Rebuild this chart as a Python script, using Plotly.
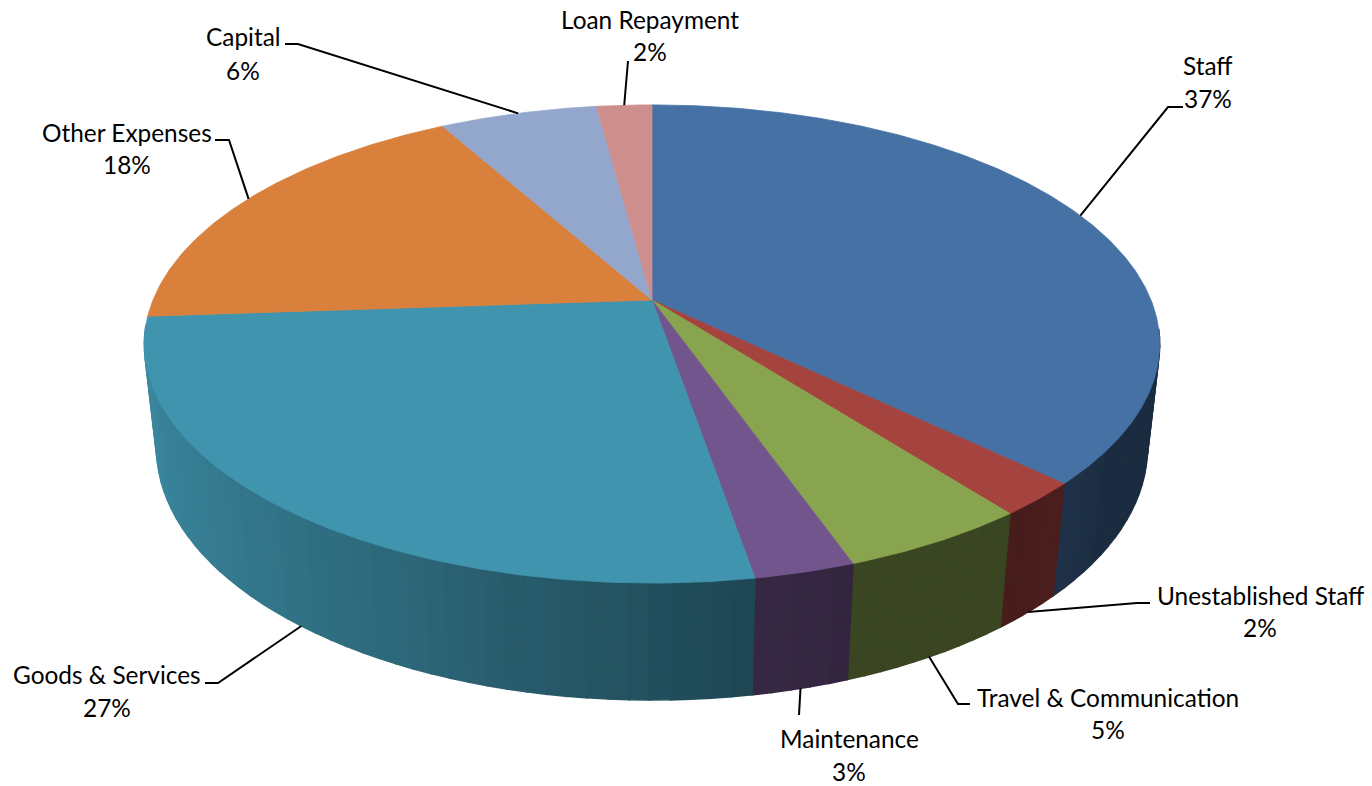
import numpy as np
import plotly.graph_objects as go

# Budget shares, clockwise from twelve o'clock
categories = ["Staff", "Unestablished Staff", "Travel & Communication", "Maintenance",
              "Goods & Services", "Other Expenses", "Capital", "Loan Repayment"]
shares = [37.2, 2.3, 5.1, 2.7, 26.6, 18.0, 6.0, 2.1]
top_colors = ["#4671A5", "#A5433F", "#89A44E", "#73558E",
              "#4094AE", "#D9803C", "#93A7CD", "#CE8E8D"]

# Label placement: centre x, name y, percent y
label_x = [1208, 1260, 1108, 849, 107, 127, 243, 650]
label_name_y = [65, 595, 697, 738, 674, 132, 36, 19]
label_pct_y = [98, 627, 729, 771, 707, 164, 70, 51]
# Leader elbows: stub end next to the text, then the bend
stub_points = [(1183, 107), (1150, 603), (970, 704), (799, 715),
               (205, 683), (215, 140), (285, 44), (628, 61)]
bend_points = [(1168, 107), (1137, 603), (958, 704), (799, 715),
               (218, 683), (229, 140), (298, 44), (628, 61)]

# Perspective camera for the disc, in page pixels
CX, CY = 652.0, 300.0
SCALE_X, SCALE_Y = 499.0, 231.0
TILT = 0.184
DEPTH_Y, DEPTH_W = 105.0, 0.024
WALL_STEP = 2.0
WALL_FROM, WALL_TO = 97.0, 264.0
FONT = "Lato"
FONT_SIZE = 24.4

# Wall brightness by angle: light on the left, darkest towards the front right
shade_angles = [60, 125, 135, 143, 160, 163, 170, 185, 205, 225, 250, 270, 300]
shade_levels = [0.39, 0.39, 0.45, 0.42, 0.42, 0.46, 0.47, 0.57, 0.70, 0.80, 0.90, 0.97, 0.97]


def project(theta_deg, height=0.0, radius=1.0):
    t = np.radians(theta_deg)
    u, v = radius * np.sin(t), -radius * np.cos(t)
    w = 1 - TILT * v + DEPTH_W * height
    return CX + SCALE_X * u / w, CY + (SCALE_Y * v + DEPTH_Y * height) / w


def shaded(hex_color, level):
    rgb = [int(hex_color[i:i + 2], 16) for i in (1, 3, 5)]
    return "rgb({},{},{})".format(*[round(c * level) for c in rgb])


edges = np.concatenate([[0.0], np.cumsum(shares)]) * 3.6
mids = (edges[:-1] + edges[1:]) / 2

fig = go.Figure()


def polygon(xs, ys, color, stroke=0.8):
    fig.add_trace(go.Scatter(x=xs, y=ys, mode="lines", fill="toself", fillcolor=color,
                             line=dict(color=color, width=stroke), hoverinfo="skip",
                             showlegend=False))


# Side wall strips, painted from the sides towards the front
strips = []
for start, end, color in zip(edges[:-1], edges[1:], top_colors):
    lo, hi = max(start, WALL_FROM), min(end, WALL_TO)
    if hi <= lo:
        continue
    n = max(1, int(np.ceil((hi - lo) / WALL_STEP)))
    cuts = np.linspace(lo, hi, n + 1)
    strips += [(a, b, color) for a, b in zip(cuts[:-1], cuts[1:])]
strips.sort(key=lambda s: -abs((s[0] + s[1]) / 2 - 180))
for a, b, color in strips:
    level = float(np.interp((a + b) / 2, shade_angles, shade_levels))
    xa, ya = project(a)
    xb, yb = project(b)
    xc, yc = project(b, 1.0)
    xd, yd = project(a, 1.0)
    polygon([xa, xb, xc, xd, xa], [ya, yb, yc, yd, ya], shaded(color, level), stroke=1.6)

# Top faces
for start, end, color in zip(edges[:-1], edges[1:], top_colors):
    arc = np.linspace(start, end, max(4, int((end - start) * 2)))
    ax, ay = project(arc)
    polygon(np.r_[CX, ax, CX], np.r_[CY, ay, CY], color)

# Leader lines end on the visible rim at the middle of each slice
for mid, stub, bend in zip(mids, stub_points, bend_points):
    front = 100 < mid < 260
    ex, ey = project(mid, 1.0 if front else 0.0)
    fig.add_trace(go.Scatter(x=[stub[0], bend[0], ex], y=[stub[1], bend[1], ey], mode="lines",
                             line=dict(color="black", width=2), hoverinfo="skip",
                             showlegend=False))

# Two-line labels: category name and rounded share
for name, share, x, y1, y2 in zip(categories, shares, label_x, label_name_y, label_pct_y):
    for text, y in ((name, y1), (f"{round(share)}%", y2)):
        fig.add_annotation(x=x, y=y, text=text, showarrow=False, xanchor="center", yanchor="middle",
                           font=dict(family=FONT, size=FONT_SIZE, color="black"))

fig.update_layout(
    width=1372, height=786, margin=dict(l=0, r=0, t=0, b=0),
    paper_bgcolor="white", plot_bgcolor="white", showlegend=False,
    xaxis=dict(range=[0, 1372], visible=False),
    yaxis=dict(range=[786, 0], visible=False),
)
fig.write_html("out.html", config={"displayModeBar": False})
